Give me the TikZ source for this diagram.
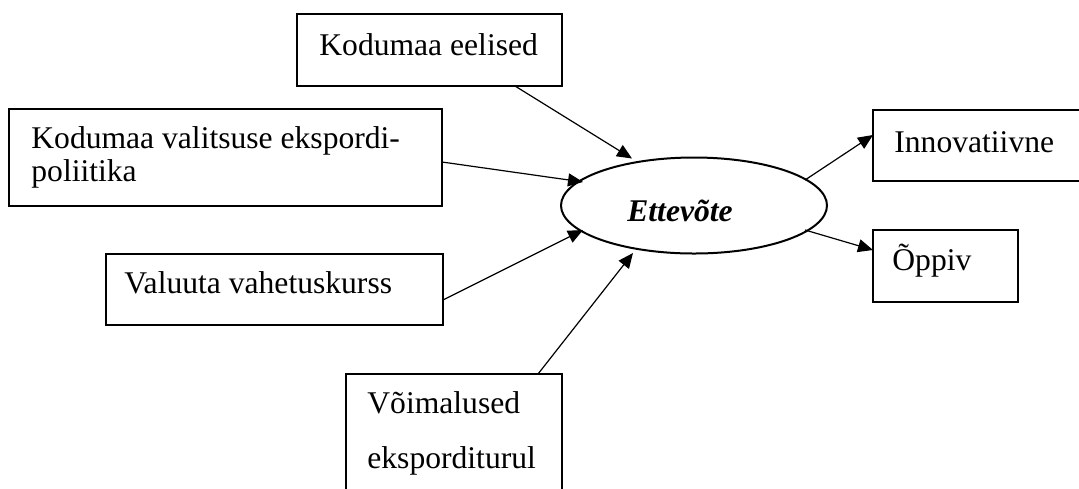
\documentclass[tikz,border=0pt]{standalone}
\usepackage{fontspec}
\setmainfont{Liberation Serif}
\usetikzlibrary{arrows.meta,shapes.geometric}
\newcommand*\boxline{1pt}
\newcommand*\textsize{\fontsize{15.8}{16.5}\selectfont}
\tikzset{
    factor/.style     = {draw, rectangle, line width=\boxline, anchor=north west,
                        inner sep=0pt, outer sep=0pt},
    factortext/.style = {anchor=base west, inner sep=0pt, align=left, font=\textsize},
    firm/.style       = {draw, ellipse, line width=\boxline, minimum width=133pt,
                        minimum height=48pt, inner sep=0pt, outer sep=0pt},
    firmtext/.style   = {anchor=base, inner sep=0pt, font=\textsize\bfseries\itshape},
    link/.style       = {-{Triangle[length=7.5pt,width=6.5pt]}, line width=0.6pt},
  }
\begin{document}
\begin{tikzpicture}[x=0.5pt,y=-0.5pt]
      \useasboundingbox (0,0) rectangle (1079,488);
      \clip (0,0) rectangle (1079,488);

      % Factor boxes, placed by their top-left corner
      \node[factor, minimum width=132.5pt, minimum height=36pt]   (eelised)    at (297,14)  {};
      \node[factor, minimum width=216.5pt, minimum height=48.5pt] (valitsuse)  at (9,109)   {};
      \node[factor, minimum width=168.5pt, minimum height=35.5pt] (valuuta)    at (106,254) {};
      \node[factor, minimum width=108pt,   minimum height=62.5pt] (voimalused) at (346,374) {};
      \node[factor, minimum width=107.5pt, minimum height=35.5pt] (innov)      at (873,110) {};
      \node[factor, minimum width=72.5pt,  minimum height=36pt]   (oppiv)      at (873,230) {};

      % The firm in the middle
      \node[firm] (firm) at (694,205.5) {};
      \node[firmtext] (firm-text) at ([shift={(-14,15.5)}]firm.center) {Ettevõte};

      % Box texts: offset of the last baseline from the top-left corner
      \foreach \b/\dx/\dy/\t in {
          eelised/22/41/{Kodumaa eelised},
          valitsuse/22/72/{Kodumaa valitsuse ekspordi-\\poliitika},
          valuuta/18/39/{Valuuta vahetuskurss},
          voimalused/21/94/{Võimalused\\[11pt]eksporditurul},
          innov/21/42/{Innovatiivne},
          oppiv/19/40/{Õppiv}} {
        \node[factortext] (\b-text) at ([shift={(\dx,\dy)}]\b.north west) {\t};
      }

      % Arrows into the firm
      \draw[link] ([shift={(-47,0)}]eelised.south east) -- ([shift={(-62,-47)}]firm.center);
      \draw[link] ([shift={(0,4.5)}]valitsuse.east)     -- ([shift={(-111,-23.5)}]firm.center);
      \draw[link] ([shift={(0,10.5)}]valuuta.east)      -- ([shift={(-111,24.5)}]firm.center);
      \draw[link] ([shift={(84,0)}]voimalused.north)    -- ([shift={(-61,47.5)}]firm.center);

      % Arrows out of the firm
      \draw[link] ([shift={(111,-25.5)}]firm.center) -- ([shift={(0,-10.5)}]innov.west);
      \draw[link] ([shift={(111,24.5)}]firm.center)  -- ([shift={(0,-16)}]oppiv.west);
    \end{tikzpicture}
\end{document}
